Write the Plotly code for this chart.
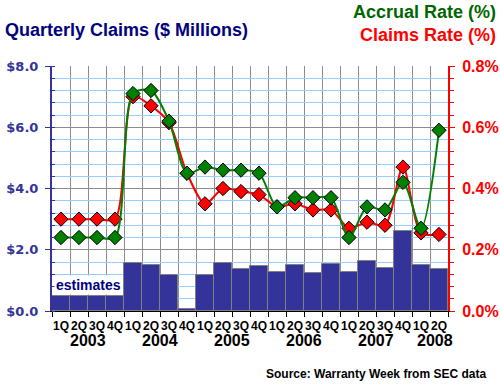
import plotly.graph_objects as go

quarters = ["1Q", "2Q", "3Q", "4Q"] * 5 + ["1Q", "2Q"]
years = ["2003", "2004", "2005", "2006", "2007", "2008"]
year_centers = [1.5, 5.5, 9.5, 13.5, 17.5, 20.8]

claims_musd = [0.5, 0.5, 0.5, 0.5, 1.56, 1.49, 1.19, 0.08, 1.19, 1.56, 1.36, 1.46,
               1.28, 1.49, 1.25, 1.53, 1.28, 1.62, 1.42, 2.62, 1.49, 1.38]
accrual_rate = [0.24, 0.24, 0.24, 0.24, 0.71, 0.72, 0.62, 0.45, 0.47, 0.46, 0.46, 0.45,
                0.34, 0.37, 0.37, 0.37, 0.24, 0.34, 0.33, 0.42, 0.27, 0.59]
claims_rate = [0.30, 0.30, 0.30, 0.30, 0.70, 0.67, 0.615, 0.45, 0.35, 0.40, 0.39, 0.38,
               0.34, 0.35, 0.33, 0.33, 0.27, 0.29, 0.28, 0.47, 0.255, 0.25]

x = list(range(len(quarters)))

ARIAL = "Liberation Sans, Arial, sans-serif"
NAVY = "#000080"
BAR = "#333399"
GREEN = "#008000"
RED = "#FF0000"

fig = go.Figure()
fig.add_trace(go.Bar(x=x, y=claims_musd, marker=dict(color=BAR, line=dict(color="#808080", width=1)),
                     yaxis="y", showlegend=False, hoverinfo="skip"))
fig.add_trace(go.Scatter(x=x, y=claims_rate, yaxis="y2", mode="lines+markers",
                         line=dict(color=RED, width=2, shape="spline", smoothing=0.8),
                         marker=dict(symbol="diamond", size=11, color=RED, line=dict(color="black", width=1)),
                         showlegend=False, hoverinfo="skip"))
fig.add_trace(go.Scatter(x=x, y=accrual_rate, yaxis="y2", mode="lines+markers",
                         line=dict(color=GREEN, width=2, shape="spline", smoothing=0.8),
                         marker=dict(symbol="diamond", size=11, color=GREEN, line=dict(color="black", width=1)),
                         showlegend=False, hoverinfo="skip"))

annotations = [
    dict(text="<b>Quarterly Claims ($ Millions)</b>", xref="paper", yref="paper", x=-0.124, y=1.147,
         xanchor="left", yanchor="middle", showarrow=False, font=dict(family=ARIAL, size=18, color=NAVY)),
    dict(text="<b>Accrual Rate (%)</b>", xref="paper", yref="paper", x=1.125, y=1.220,
         xanchor="right", yanchor="middle", showarrow=False, font=dict(family=ARIAL, size=18, color="#006600")),
    dict(text="<b>Claims Rate (%)</b>", xref="paper", yref="paper", x=1.125, y=1.127,
         xanchor="right", yanchor="middle", showarrow=False, font=dict(family=ARIAL, size=18, color=RED)),
    dict(text="<b>Source: Warranty Week from SEC data</b>", xref="paper", yref="paper", x=1.10, y=-0.257,
         xanchor="right", yanchor="middle", showarrow=False, font=dict(family=ARIAL, size=12, color="black")),
    dict(text="<b>estimates</b>", xref="paper", yref="paper", x=0.006, y=0.108,
         xanchor="left", yanchor="middle", showarrow=False, bgcolor="white", borderpad=1,
         font=dict(family=ARIAL, size=14, color=NAVY)),
]
for yr, xc in zip(years, year_centers):
    annotations.append(dict(text=f"<b>{yr}</b>", x=xc, xref="x", yref="paper", y=-0.12, xanchor="center",
                            yanchor="middle", showarrow=False,
                            font=dict(family=ARIAL, size=16, color="black")))

fig.update_layout(
    width=500, height=385,
    margin=dict(l=52, r=52, t=66, b=74, autoexpand=False),
    paper_bgcolor="white", plot_bgcolor="white",
    bargap=0,
    annotations=annotations,
    xaxis=dict(range=[-0.5, 21.5], tickmode="array", tickvals=x, ticktext=[f"<b>{q}</b>" for q in quarters],
               tickfont=dict(family=ARIAL, size=12, color="black"), tickangle=0,
               ticks="outside", ticklen=4, tickcolor="rgba(0,0,0,0)",
               showgrid=False, zeroline=False, automargin=False,
               showline=True, linecolor="black", linewidth=1,
               minor=dict(tickmode="linear", tick0=-0.5, dtick=1, showgrid=True, gridcolor="#8C8C8C",
                          gridwidth=1, ticks="outside", ticklen=5, tickcolor="black")),
    yaxis=dict(range=[0, 8], tickmode="linear", tick0=0, dtick=2, tickformat="$.1f",
               tickfont=dict(family="DejaVu Sans", size=13, color=BAR, weight="bold"),
               ticklabelstandoff=4, automargin=False,
               showgrid=True, gridcolor="#8C8C8C", gridwidth=1, zeroline=False,
               showline=True, linecolor=BAR, linewidth=2,
               ticks="outside", ticklen=5, tickcolor=BAR, tickwidth=1,
               minor=dict(tickmode="linear", tick0=0, dtick=0.4, showgrid=True, gridcolor="#99CCFF",
                          ticks="inside", ticklen=3, tickcolor=BAR)),
    yaxis2=dict(range=[0, 0.8], overlaying="y", side="right", tickmode="linear", tick0=0, dtick=0.2,
                tickformat=".1f", ticksuffix="%",
                tickfont=dict(family=ARIAL, size=16, color=RED, weight="bold"),
                ticklabelstandoff=4, automargin=False,
                showgrid=False, zeroline=False,
                showline=True, linecolor=RED, linewidth=2,
                ticks="outside", ticklen=5, tickcolor=RED,
                minor=dict(tickmode="linear", tick0=0, dtick=0.04, ticks="outside", ticklen=4,
                           tickcolor=RED, showgrid=False)),
)

fig.write_html("out.html", config={"displayModeBar": False},
               post_script="document.body.style.margin='0';document.body.style.overflow='hidden';")
